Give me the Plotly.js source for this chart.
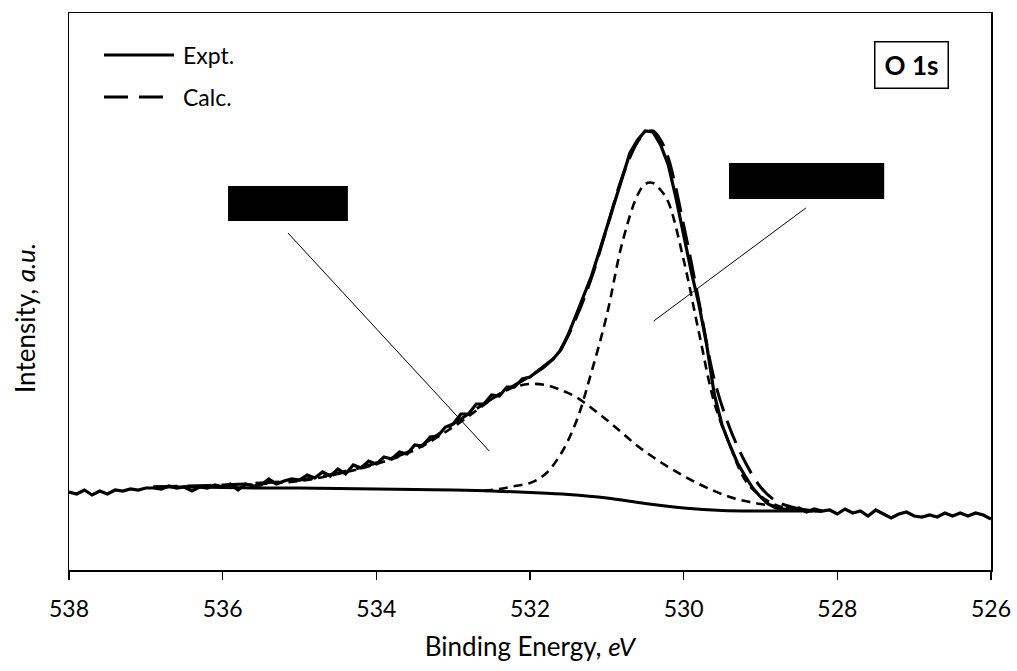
<!DOCTYPE html>
<html>
<head>
<meta charset="utf-8">
<script src="https://cdn.plot.ly/plotly-3.0.1.min.js"></script>
<style>html,body{margin:0;padding:0;background:#fff;}#chart{width:1017px;height:671px;}</style>
</head>
<body>
<div id="chart"></div>
<script>
// Experimental spectrum: binding energy (eV) and intensity (a.u.)
const exptEnergy = [
538.0,537.9,537.8,537.7,537.6,537.5,537.4,537.3,537.2,537.1,
537.0,536.9,536.8,536.7,536.6,536.5,536.4,536.3,536.2,536.1,
536.0,535.9,535.8,535.7,535.6,535.5,535.4,535.3,535.2,535.1,
535.0,534.9,534.8,534.7,534.6,534.5,534.4,534.3,534.2,534.1,
534.0,533.9,533.8,533.7,533.6,533.5,533.4,533.3,533.2,533.1,
533.0,532.9,532.8,532.7,532.6,532.5,532.4,532.3,532.2,532.1,
532.0,531.9,531.8,531.7,531.6,531.5,531.4,531.3,531.2,531.1,
531.0,530.9,530.8,530.7,530.6,530.5,530.4,530.3,530.2,530.1,
530.0,529.9,529.8,529.7,529.6,529.5,529.4,529.3,529.2,529.1,
529.0,528.9,528.8,528.7,528.6,528.5,528.4,528.3,528.2,528.1,
528.0,527.9,527.8,527.7,527.6,527.5,527.4,527.3,527.2,527.1,
527.0,526.9,526.8,526.7,526.6,526.5,526.4,526.3,526.2,526.1,
526.0];
const exptIntensity = [
78,76,80,75,79,76,80,79,81,80,
82,82,81,84,82,83,79,83,82,85,
83,86,80,86,84,85,91,86,89,91,
90,95,92,98,94,101,96,105,102,109,
106,113,111,118,116,125,124,133,134,143,
146,156,156,166,166,175,174,183,183,191,
193,199,205,211,220,236,255,275,294,318,
342,367,392,417,430,439,438,425,405,372,
334,298,265,225,175,145,125,107,94,82,
73,66,62,61,60,62,58,61,59,60,
56,61,57,59,54,60,56,52,56,58,
54,53,55,53,57,54,57,54,57,55,
51];

// Calculated envelope
const calcEnergy = [536.9,536.5,536.0,535.5,535.0,534.5,534.0,533.5,533.0,532.5,532.0,531.8,531.6,531.4,531.2,531.0,530.8,530.6,530.5,530.4,530.3,530.2,530.0,529.8,529.6,529.4,529.2,529.0,528.8,528.6,528.4,528.2];
const calcIntensity = [83,84,85,87,90,97,107,121,146,171,194,204,221,252,292,342,393,428,437,439,430,412,345,268,190,142,108,83,69,63,60,59];

// Shirley background
const bgEnergy = [536.9,536.5,536.0,535.5,535.0,534.5,534.0,533.5,533.0,532.5,532.0,531.5,531.0,530.5,530.0,529.5,529.0,528.5,528.2];
const bgIntensity = [83,83,82.5,82,82,81.5,81,80.5,80,79,77.5,75.5,72,66.5,62,59.5,59,59,59];

// Component 1 (main peak, ~530.4 eV)
const comp1Energy = [532.6,532.4,532.2,532.0,531.8,531.6,531.4,531.2,531.0,530.8,530.6,530.5,530.4,530.3,530.2,530.0,529.8,529.6,529.4,529.2,529.0,528.8,528.6,528.4,528.2];
const comp1Intensity = [79.5,81,84,87,96,116,148,198,255,327,375,386,387,380,368,310,237,167,125,90,74,65,61,59,59];

// Component 2 (broad peak, ~532.0 eV)
const comp2Energy = [536.9,536.5,536.0,535.5,535.0,534.5,534.0,533.5,533.0,532.6,532.4,532.2,532.0,531.8,531.6,531.4,531.2,531.0,530.8,530.6,530.4,530.2,530.0,529.8,529.6,529.4,529.2,529.0,528.8,528.5,528.2];
const comp2Intensity = [83,83.5,84,86,89,96,106,120,143,165,176,183,186,185,180,173,162,150,137,124,113,103,94,86,79,73,69,66,64,61,59];

const xTickVals = [538,536,534,532,530,528,526];
const legendNames = ['Expt.', 'Calc.'];
const FONT = 'Lato, "Open Sans", sans-serif';

const traces = [
  {x: bgEnergy, y: bgIntensity, type:'scatter', mode:'lines', name:'Background',
   line:{color:'#000', width:3, shape:'spline'}},
  {x: comp1Energy, y: comp1Intensity, type:'scatter', mode:'lines', name:'Component 1',
   line:{color:'#000', width:2.6, dash:'9px,6px', shape:'spline'}},
  {x: comp2Energy, y: comp2Intensity, type:'scatter', mode:'lines', name:'Component 2',
   line:{color:'#000', width:2.6, dash:'9px,6px', shape:'spline'}},
  {x: exptEnergy, y: exptIntensity, type:'scatter', mode:'lines', name:legendNames[0],
   line:{color:'#000', width:3.2}},
  {x: calcEnergy, y: calcIntensity, type:'scatter', mode:'lines', name:legendNames[1],
   line:{color:'#000', width:3, dash:'24px,10px', shape:'spline'}}
];

// legend drawn in paper space (long sample lines as in the original)
const legX0 = (104-69)/922, legX1 = (174-69)/922, legTx = (181-69)/922;
const legY = [(570-55)/557, (570-97)/557];

const layout = {
  width:1017, height:671,
  margin:{l:69, r:26, t:13, b:101},
  paper_bgcolor:'#fff', plot_bgcolor:'#fff',
  font:{family:FONT, color:'#000', size:23},
  showlegend:false,
  xaxis:{range:[538,526], tickvals:xTickVals, ticktext:xTickVals.map(String),
         ticks:'outside', ticklen:8, tickwidth:1.5, tickcolor:'#000', ticklabelstandoff:10,
         showline:true, linecolor:'#000', linewidth:1.5, mirror:true,
         showgrid:false, zeroline:false, tickfont:{family:FONT, size:23, color:'#000'},
         title:{text:'Binding Energy, <i>eV</i>', font:{family:FONT, size:26, color:'#000'}, standoff:16}},
  yaxis:{range:[0,557], showticklabels:false, ticks:'', showline:true, linecolor:'#000', linewidth:1.5, mirror:true,
         showgrid:false, zeroline:false},
  shapes:[
    {type:'rect', xref:'x', yref:'y', x0:535.93, x1:534.37, y0:349, y1:384, fillcolor:'#000', line:{width:0}},
    {type:'rect', xref:'x', yref:'y', x0:529.41, x1:527.39, y0:371, y1:407, fillcolor:'#000', line:{width:0}},
    {type:'line', xref:'x', yref:'y', x0:535.15, y0:337, x1:532.53, y1:119, line:{color:'#000', width:1}},
    {type:'line', xref:'x', yref:'y', x0:528.41, y0:362, x1:530.39, y1:249, line:{color:'#000', width:1}},
    {type:'line', xref:'paper', yref:'paper', x0:legX0, x1:legX1, y0:legY[0], y1:legY[0], line:{color:'#000', width:3}},
    {type:'line', xref:'paper', yref:'paper', x0:legX0, x1:legX1, y0:legY[1], y1:legY[1], line:{color:'#000', width:3, dash:'24px,11px'}}
  ],
  annotations:[
    {xref:'paper', yref:'paper', x:legTx, y:legY[0], xanchor:'left', yanchor:'middle', showarrow:false,
     text:legendNames[0], font:{family:FONT, size:23, color:'#000'}},
    {xref:'paper', yref:'paper', x:legTx, y:legY[1], xanchor:'left', yanchor:'middle', showarrow:false,
     text:legendNames[1], font:{family:FONT, size:23, color:'#000'}},
    {xref:'paper', yref:'paper', x:0.914, y:0.906, xanchor:'center', yanchor:'middle', showarrow:false,
     text:'<b>O 1s</b>', font:{family:FONT, size:26, color:'#000'},
     bordercolor:'#000', borderwidth:1.5, borderpad:1, width:70, height:43, bgcolor:'#fff'},
    {xref:'paper', yref:'paper', x:-0.048, y:0.452, xanchor:'center', yanchor:'middle', showarrow:false,
     textangle:-90, text:'Intensity, <i>a.u.</i>', font:{family:FONT, size:26, color:'#000'}}
  ]
};

Plotly.newPlot('chart', traces, layout, {staticPlot:true, displayModeBar:false});
</script>
</body>
</html>
